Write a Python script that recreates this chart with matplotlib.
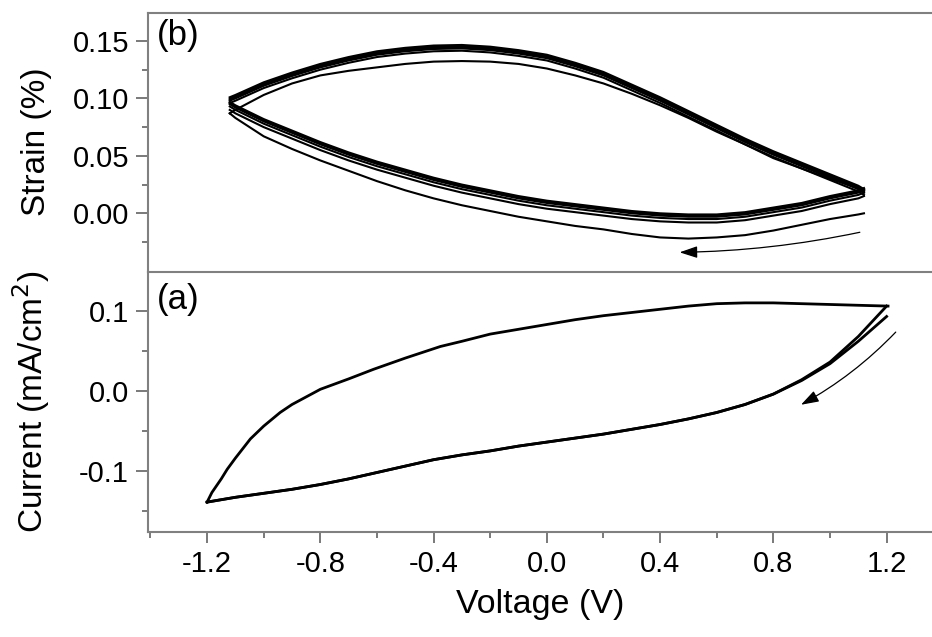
import matplotlib
matplotlib.use("Agg")
import matplotlib.pyplot as plt
from matplotlib.patches import FancyArrowPatch

plt.rcParams['font.family'] = ['Liberation Sans', 'DejaVu Sans']
plt.rcParams['axes.unicode_minus'] = False

# ---------------- data ----------------
# Panel (b): strain vs voltage (lower branch swept from +V to -V)
strain_down_v = [1.12, 1.1, 1.0, 0.9, 0.8, 0.7, 0.6, 0.5, 0.4, 0.3, 0.2, 0.1, 0.0,
                 -0.1, -0.2, -0.3, -0.4, -0.5, -0.6, -0.7, -0.8, -0.9, -1.0, -1.1, -1.12]
strain_first_lower = [0.000, -0.001, -0.005, -0.010, -0.015, -0.019, -0.021, -0.022, -0.021,
                      -0.018, -0.014, -0.011, -0.007, -0.003, 0.002, 0.007, 0.013, 0.020,
                      0.028, 0.037, 0.046, 0.056, 0.067, 0.083, 0.087]
strain_steady_lower = [0.020, 0.018, 0.013, 0.007, 0.003, -0.001, -0.003, -0.003, -0.002,
                       0.000, 0.003, 0.006, 0.009, 0.013, 0.018, 0.023, 0.029, 0.036,
                       0.043, 0.051, 0.060, 0.070, 0.080, 0.092, 0.095]

# upper branch swept from -V to +V
strain_up_v = [-1.12, -1.1, -1.0, -0.9, -0.8, -0.7, -0.6, -0.5, -0.4, -0.3, -0.2, -0.1, 0.0,
               0.1, 0.2, 0.3, 0.4, 0.5, 0.6, 0.7, 0.8, 0.9, 1.0, 1.1, 1.12]
strain_first_upper = [0.087, 0.090, 0.103, 0.113, 0.120, 0.124, 0.127, 0.130, 0.132, 0.1325,
                      0.132, 0.130, 0.126, 0.120, 0.113, 0.104, 0.094, 0.083, 0.071, 0.060,
                      0.048, 0.039, 0.030, 0.022, 0.020]
strain_steady_upper = [0.100, 0.102, 0.113, 0.1215, 0.129, 0.135, 0.140, 0.143, 0.145, 0.1455,
                       0.144, 0.141, 0.137, 0.130, 0.122, 0.111, 0.100, 0.088, 0.076, 0.064,
                       0.053, 0.043, 0.033, 0.023, 0.020]

cycle_lower_shift = [-0.005, -0.002, 0.0, 0.001, 0.002]
cycle_upper_shift = [-0.004, -0.002, -0.001, 0.0, 0.001]

# Panel (a): current density vs voltage
cv_lower_v = [1.2, 1.1, 1.0, 0.9, 0.8, 0.7, 0.6, 0.5, 0.4, 0.3, 0.2, 0.1, 0.0,
              -0.1, -0.2, -0.3, -0.4, -0.5, -0.6, -0.7, -0.8, -0.9, -1.0, -1.1, -1.2]
cv_lower_i_a = [0.093, 0.062, 0.034, 0.013, -0.004, -0.017, -0.027, -0.035, -0.042, -0.048,
                -0.054, -0.059, -0.064, -0.069, -0.075, -0.080, -0.086, -0.094, -0.102,
                -0.110, -0.117, -0.123, -0.128, -0.133, -0.139]
cv_lower_i_b = [0.106, 0.068, 0.036, 0.014, -0.004, -0.017, -0.027, -0.035, -0.042, -0.048,
                -0.054, -0.059, -0.064, -0.069, -0.075, -0.080, -0.086, -0.094, -0.102,
                -0.110, -0.117, -0.123, -0.128, -0.133, -0.139]

cv_upper_v = [-1.2, -1.183, -1.15, -1.129, -1.1, -1.047, -1.0, -0.942, -0.9, -0.8, -0.7,
              -0.612, -0.5, -0.376, -0.3, -0.2, -0.1, 0.0, 0.1, 0.2, 0.3, 0.4, 0.5, 0.6,
              0.7, 0.8, 0.9, 1.0, 1.1, 1.205]
cv_upper_i = [-0.139, -0.127, -0.110, -0.098, -0.084, -0.060, -0.044, -0.027, -0.017, 0.002,
              0.015, 0.027, 0.041, 0.0555, 0.062, 0.071, 0.077, 0.083, 0.089, 0.094, 0.098,
              0.102, 0.106, 0.109, 0.110, 0.110, 0.109, 0.108, 0.107, 0.106]

x_major = [-1.2, -0.8, -0.4, 0.0, 0.4, 0.8, 1.2]
x_major_labels = ["-1.2", "-0.8", "-0.4", "0.0", "0.4", "0.8", "1.2"]
x_minor = [-1.4, -1.0, -0.6, -0.2, 0.2, 0.6, 1.0]
strain_major = [0.0, 0.05, 0.10, 0.15]
strain_major_labels = ["0.00", "0.05", "0.10", "0.15"]
strain_minor = [-0.025, 0.025, 0.075, 0.125]
cur_major = [-0.1, 0.0, 0.1]
cur_major_labels = ["-0.1", "0.0", "0.1"]
cur_minor = [-0.15, -0.05, 0.05]

# ---------------- figure ----------------
fig = plt.figure(figsize=(9.32, 6.37), dpi=100)
ax_s = fig.add_axes([0.1584, 0.5735, 0.8567, 0.4066])
ax_c = fig.add_axes([0.1584, 0.1653, 0.8567, 0.4082], sharex=ax_s)

spine_col = '#808080'
tick_col = '#555555'
for ax in (ax_s, ax_c):
    for sp in ax.spines.values():
        sp.set_color(spine_col)
        sp.set_linewidth(1.5)
ax_s.spines['bottom'].set_visible(False)

lc = 'black'
# strain loops
ax_s.plot(strain_down_v, strain_first_lower, color=lc, lw=1.5)
ax_s.plot(strain_up_v, strain_first_upper, color=lc, lw=1.5)
for dl, du in zip(cycle_lower_shift, cycle_upper_shift):
    ax_s.plot(strain_down_v, [s + dl for s in strain_steady_lower], color=lc, lw=1.5)
    ax_s.plot(strain_up_v, [s + du for s in strain_steady_upper], color=lc, lw=1.5)

# current loop
ax_c.plot(cv_lower_v, cv_lower_i_a, color=lc, lw=2.0)
ax_c.plot(cv_upper_v, cv_upper_i, color=lc, lw=2.0)
ax_c.plot(cv_lower_v, cv_lower_i_b, color=lc, lw=2.0)

# arrows
arr_s = FancyArrowPatch((1.115, -0.016), (0.459, -0.034),
                        connectionstyle="arc3,rad=-0.05",
                        arrowstyle="-|>,head_length=0.9,head_width=0.3",
                        mutation_scale=12, lw=0.9, color='black')
ax_s.add_patch(arr_s)
arr_c = FancyArrowPatch((1.239, 0.076), (0.889, -0.019),
                        connectionstyle="arc3,rad=-0.08",
                        arrowstyle="-|>,head_length=0.9,head_width=0.3",
                        mutation_scale=12, lw=0.9, color='black')
ax_c.add_patch(arr_c)

# limits & ticks
ax_s.set_xlim(-1.41, 1.41)
ax_s.set_ylim(-0.0508, 0.1746)
ax_c.set_ylim(-0.176, 0.149)

ax_c.set_xticks(x_major)
ax_c.set_xticklabels(x_major_labels)
ax_c.set_xticks(x_minor, minor=True)
ax_s.set_yticks(strain_major)
ax_s.set_yticklabels(strain_major_labels)
ax_s.set_yticks(strain_minor, minor=True)
ax_c.set_yticks(cur_major)
ax_c.set_yticklabels(cur_major_labels)
ax_c.set_yticks(cur_minor, minor=True)

for ax in (ax_s, ax_c):
    ax.tick_params(axis='y', which='major', direction='out', length=8.5, width=1.1,
                   color=tick_col, labelsize=21, pad=5)
    ax.tick_params(axis='y', which='minor', direction='out', length=4.5, width=1.1,
                   color=tick_col)
    ax.tick_params(axis='y', which='both', right=False)
ax_s.tick_params(axis='x', which='both', bottom=False, top=False, labelbottom=False)
ax_c.tick_params(axis='x', which='major', direction='out', length=8, width=1.1,
                 color=tick_col, labelsize=21, pad=5, top=False)
ax_c.tick_params(axis='x', which='minor', direction='out', length=4.5, width=1.1,
                 color=tick_col, top=False)

ax_s.set_ylabel('Strain (%)', fontsize=24)
ax_c.set_ylabel('Current (mA/cm$^2$)', fontsize=24)
ax_s.yaxis.set_label_coords(-0.12, 0.5)
ax_c.yaxis.set_label_coords(-0.12, 0.5)
ax_c.set_xlabel('Voltage (V)', fontsize=24.5)
ax_c.xaxis.set_label_coords(0.4915, -0.22)

ax_s.text(0.012, 0.975, '(b)', transform=ax_s.transAxes, ha='left', va='top', fontsize=25)
ax_c.text(0.012, 0.957, '(a)', transform=ax_c.transAxes, ha='left', va='top', fontsize=25)

fig.savefig('out.png', dpi=100)
